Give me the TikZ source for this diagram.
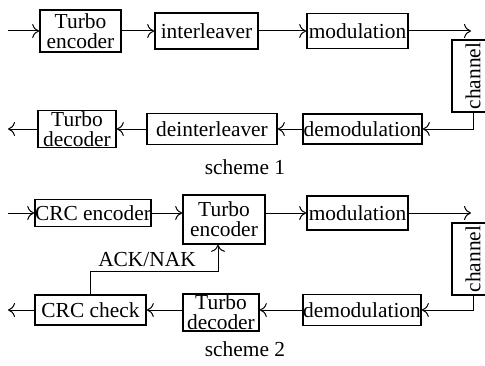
\documentclass[tikz,border=0pt]{standalone}
\usepackage{fontspec}
\setmainfont{Liberation Serif}
\usepackage{tikz}
\usetikzlibrary{arrows.meta}

\begin{document}
\begin{tikzpicture}[x=0.5pt, y=0.5pt, >={To[length=3.5pt, width=7pt]}, line width=0.5pt,
  blk/.style={draw, line width=0.8pt, inner sep=0pt, align=center,
    font=\fontsize{10.7}{10}\selectfont},
  lbl/.style={font=\fontsize{10.7}{12}\selectfont}]

\useasboundingbox (0, 0) rectangle (485, 365);
\clip (0, 0) rectangle (485, 365);

% scheme 1
\node[blk, minimum width=40.5pt, minimum height=21pt] (tenc1) at (80.5, 334) {Turbo\\encoder};
\node[blk, minimum width=51.5pt, minimum height=18pt] (intl) at (206.5, 334) {interleaver};
\node[blk, minimum width=50.5pt, minimum height=17.5pt] (mod1) at (357.5, 334) {modulation};
\node[blk, minimum width=36pt, minimum height=21pt, rotate=90] (chan1) at (473, 289) {channel};
\node[blk, minimum width=59.5pt, minimum height=15pt] (demod1) at (362.5, 236) {demodulation};
\node[blk, minimum width=65pt, minimum height=15.5pt] (deintl) at (212, 236) {deinterleaver};
\node[blk, minimum width=39pt, minimum height=18.5pt] (tdec1) at (77, 236) {Turbo\\decoder};
\node[lbl] (sch1) at (245, 198) {scheme 1};

\coordinate (in1) at (8, 334);
\coordinate (out1) at (8, 236);
\coordinate (c1top) at (471, 334);

\draw[->] (in1) -- (tenc1.west);
\draw[->] (tenc1.east) -- (intl.west);
\draw[->] (intl.east) -- (mod1.west);
\draw[->] (mod1.east) -- (c1top);
\draw[->] (chan1.west) |- (demod1.east);
\draw[->] (demod1.west) -- (deintl.east);
\draw[->] (deintl.west) -- (tdec1.east);
\draw[->] (tdec1.west) -- (out1);

% scheme 2
\node[blk, minimum width=57pt, minimum height=13.5pt] (crcenc) at (93, 152) {CRC encoder};
\node[blk, minimum width=41pt, minimum height=24.5pt] (tenc2) at (224, 145.5) {Turbo\\encoder};
\node[blk, minimum width=50.5pt, minimum height=17pt] (mod2) at (357.5, 152) {modulation};
\node[blk, minimum width=36pt, minimum height=21pt, rotate=90] (chan2) at (473, 106) {channel};
\node[blk, minimum width=59pt, minimum height=15.5pt] (demod2) at (362, 55) {demodulation};
\node[blk, minimum width=38pt, minimum height=18.5pt] (tdec2) at (221, 52.5) {Turbo\\decoder};
\node[blk, minimum width=55.5pt, minimum height=15pt] (crcchk) at (90.5, 55) {CRC check};
\node[lbl] (ack) at (147, 105) {ACK/NAK};
\node[lbl] (sch2) at (245, 16) {scheme 2};

\coordinate (in2) at (8, 152);
\coordinate (out2) at (8, 55);
\coordinate (c2top) at (471, 152);
\coordinate (ackbend) at (218, 94);

\draw[->] (in2) -- (crcenc.west);
\draw[->] (crcenc.east) -- (crcenc.east -| tenc2.west);
\draw[->] (tenc2.east |- mod2.west) -- (mod2.west);
\draw[->] (mod2.east) -- (c2top);
\draw[->] (chan2.west) |- (demod2.east);
\draw[->] (demod2.west) -- (demod2.west -| tdec2.east);
\draw[->] (demod2.west -| tdec2.west) -- (crcchk.east);
\draw[->] (crcchk.west) -- (out2);
\draw[->] (crcchk.north) |- (ackbend) -- (ackbend |- tenc2.south);

\end{tikzpicture}
\end{document}
